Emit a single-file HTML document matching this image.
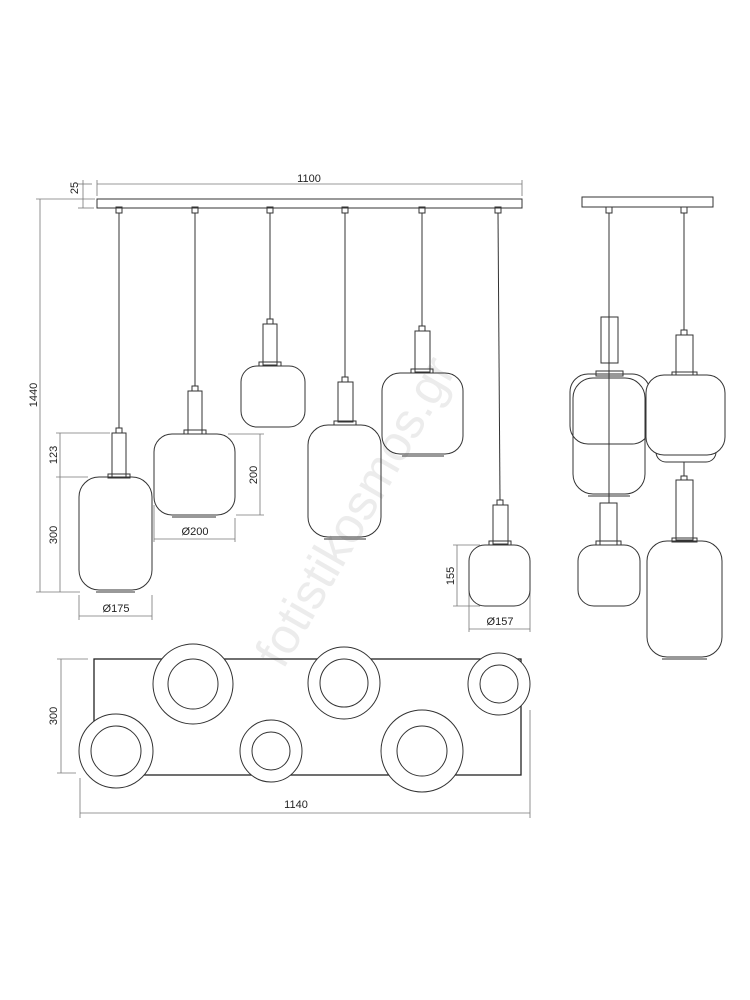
<!DOCTYPE html>
<html><head><meta charset="utf-8"><style>
html,body{margin:0;padding:0;background:#fff;width:750px;height:1000px;overflow:hidden}
svg{display:block}
text{font-family:"Liberation Sans",Arial,sans-serif;font-size:11px;fill:#222}
</style></head><body>
<svg width="750" height="1000" viewBox="0 0 750 1000" xmlns="http://www.w3.org/2000/svg">
<text x="370" y="520" transform="rotate(-60 370 520)" text-anchor="middle" style="font-size:50px;fill:#ececec">fotistikosmos.gr</text>
<g fill="none" stroke="#333" stroke-width="1">
<!-- front bar -->
<rect x="97" y="199" width="425" height="9"/>
<!-- dims front -->
<g stroke="#777" stroke-width="0.8">
<line x1="97" y1="184" x2="522" y2="184"/><line x1="97" y1="180" x2="97" y2="196"/><line x1="522" y1="180" x2="522" y2="196"/>
<line x1="83" y1="180" x2="83" y2="208"/><line x1="78" y1="184" x2="92" y2="184"/><line x1="78" y1="208" x2="94" y2="208"/>
<line x1="40" y1="199" x2="40" y2="592"/><line x1="36" y1="199" x2="95" y2="199"/><line x1="36" y1="592" x2="80" y2="592"/>
<line x1="60" y1="433" x2="60" y2="592"/><line x1="56" y1="433" x2="110" y2="433"/><line x1="56" y1="477" x2="88" y2="477"/>
<line x1="79" y1="595" x2="79" y2="620"/><line x1="152" y1="595" x2="152" y2="620"/><line x1="79" y1="616" x2="152" y2="616"/>
<line x1="260" y1="434" x2="260" y2="515"/><line x1="228" y1="434" x2="264" y2="434"/><line x1="236" y1="515" x2="264" y2="515"/>
<line x1="154" y1="505" x2="154" y2="542"/><line x1="235" y1="518" x2="235" y2="542"/><line x1="154" y1="539" x2="235" y2="539"/>
<line x1="457" y1="545" x2="457" y2="606"/><line x1="453" y1="545" x2="480" y2="545"/><line x1="453" y1="606" x2="480" y2="606"/>
<line x1="469" y1="580" x2="469" y2="632"/><line x1="530" y1="580" x2="530" y2="632"/><line x1="469" y1="629" x2="530" y2="629"/>
</g>
<!-- pendant 1 -->
<rect x="116" y="207" width="6" height="6"/><line x1="119" y1="213" x2="119" y2="428"/><rect x="116" y="428" width="6" height="5"/>
<rect x="112" y="433" width="14" height="45"/><rect x="108" y="474" width="22" height="4"/>
<rect x="79" y="477" width="73" height="113" rx="20"/><line x1="96" y1="592" x2="135" y2="592"/>
<!-- pendant 2 -->
<rect x="192" y="207" width="6" height="6"/><line x1="195" y1="213" x2="195" y2="386"/><rect x="192" y="386" width="6" height="5"/>
<rect x="188" y="391" width="14" height="43"/><rect x="184" y="430" width="22" height="4"/>
<rect x="154" y="434" width="81" height="81" rx="18"/><line x1="172" y1="517" x2="216" y2="517"/>
<!-- pendant 3 -->
<rect x="267" y="207" width="6" height="6"/><line x1="270" y1="213" x2="270" y2="319"/><rect x="267" y="319" width="6" height="5"/>
<rect x="263" y="324" width="14" height="41"/><rect x="259" y="362" width="22" height="4"/>
<rect x="241" y="366" width="64" height="61" rx="16"/>
<!-- pendant 4 -->
<rect x="342" y="207" width="6" height="6"/><line x1="345" y1="213" x2="345" y2="377"/><rect x="342" y="377" width="6" height="5"/>
<rect x="338" y="382" width="15" height="40"/><rect x="334" y="421" width="22" height="4"/>
<rect x="308" y="425" width="73" height="112" rx="20"/><line x1="324" y1="539" x2="366" y2="539"/>
<!-- pendant 5 -->
<rect x="419" y="207" width="6" height="6"/><line x1="422" y1="213" x2="422" y2="326"/><rect x="419" y="326" width="6" height="5"/>
<rect x="415" y="331" width="15" height="41"/><rect x="411" y="369" width="22" height="4"/>
<rect x="382" y="373" width="81" height="81" rx="18"/><line x1="402" y1="456" x2="444" y2="456"/>
<!-- pendant 6 -->
<rect x="495" y="207" width="6" height="6"/><line x1="498" y1="213" x2="500" y2="500"/><rect x="497" y="500" width="6" height="5"/>
<rect x="493" y="505" width="15" height="39"/><rect x="489" y="541" width="22" height="4"/>
<rect x="469" y="545" width="61" height="61" rx="16"/>
<!-- side view -->
<rect x="582" y="197" width="131" height="10"/>
<rect x="606" y="207" width="6" height="6"/><rect x="681" y="207" width="6" height="6"/>
<line x1="684" y1="213" x2="684" y2="330"/><rect x="681" y="330" width="6" height="5"/>
<rect x="570" y="374" width="80" height="70" rx="18"/>
<rect x="573" y="378" width="72" height="116" rx="20"/><line x1="588" y1="496" x2="630" y2="496"/>
<rect x="601" y="317" width="17" height="46"/><rect x="596" y="371" width="27" height="5"/>
<line x1="609" y1="213" x2="609" y2="503"/>
<rect x="600" y="503" width="17" height="42"/><rect x="596" y="541" width="25" height="4"/>
<rect x="578" y="545" width="62" height="61" rx="16"/>
<rect x="676" y="335" width="17" height="40"/><rect x="672" y="372" width="25" height="4"/>
<rect x="656" y="440" width="60" height="22" rx="10"/>
<rect x="646" y="375" width="79" height="80" rx="18" fill="#fff"/>
<line x1="684" y1="462" x2="684" y2="476"/><rect x="681" y="476" width="6" height="4"/>
<rect x="676" y="480" width="17" height="60"/><rect x="672" y="538" width="25" height="4"/>
<rect x="647" y="541" width="75" height="116" rx="20"/><line x1="662" y1="659" x2="707" y2="659"/>
<!-- bottom view -->
<rect x="94" y="659" width="427" height="116" stroke="#222" stroke-width="1.3"/>
<g fill="#fff">
<circle cx="193" cy="684" r="40"/><circle cx="344" cy="683" r="36"/><circle cx="499" cy="684" r="31"/>
<circle cx="116" cy="751" r="37"/><circle cx="271" cy="751" r="31"/><circle cx="422" cy="751" r="41"/>
</g>
<circle cx="193" cy="684" r="25"/><circle cx="344" cy="683" r="24"/><circle cx="499" cy="684" r="19"/>
<circle cx="116" cy="751" r="25"/><circle cx="271" cy="751" r="19"/><circle cx="422" cy="751" r="25"/>
<g stroke="#777" stroke-width="0.8">
<line x1="61" y1="659" x2="61" y2="773"/><line x1="57" y1="659" x2="88" y2="659"/><line x1="57" y1="773" x2="76" y2="773"/>
<line x1="80" y1="778" x2="80" y2="818"/><line x1="530" y1="710" x2="530" y2="818"/><line x1="80" y1="813" x2="530" y2="813"/>
</g>
</g>
<text x="309" y="182" text-anchor="middle">1100</text>
<text transform="translate(78 188) rotate(-90)" text-anchor="middle">25</text>
<text transform="translate(37 395) rotate(-90)" text-anchor="middle">1440</text>
<text transform="translate(57 455) rotate(-90)" text-anchor="middle">123</text>
<text transform="translate(57 535) rotate(-90)" text-anchor="middle">300</text>
<text x="116" y="612" text-anchor="middle">Ø175</text>
<text transform="translate(257 475) rotate(-90)" text-anchor="middle">200</text>
<text x="195" y="535" text-anchor="middle">Ø200</text>
<text transform="translate(454 576) rotate(-90)" text-anchor="middle">155</text>
<text x="500" y="625" text-anchor="middle">Ø157</text>
<text transform="translate(57 716) rotate(-90)" text-anchor="middle">300</text>
<text x="296" y="808" text-anchor="middle">1140</text>
</svg>
</body></html>
